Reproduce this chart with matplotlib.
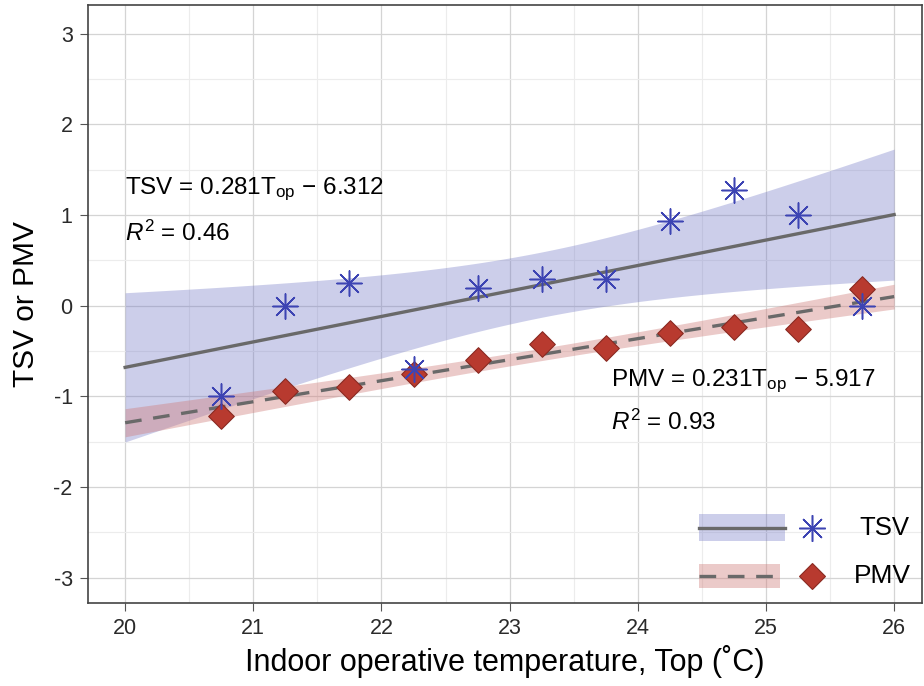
import numpy as np
import matplotlib
matplotlib.use("Agg")
import matplotlib.pyplot as plt
from matplotlib.patches import Rectangle
from matplotlib.lines import Line2D

plt.rcParams['font.family'] = ['Liberation Sans', 'DejaVu Sans']
plt.rcParams['mathtext.fontset'] = 'custom'
plt.rcParams['mathtext.rm'] = 'Liberation Sans'
plt.rcParams['mathtext.it'] = 'Liberation Sans:italic'
plt.rcParams['axes.unicode_minus'] = False

# data
top = [20.75, 21.25, 21.75, 22.25, 22.75, 23.25, 23.75, 24.25, 24.75, 25.25, 25.75]
tsv = [-1.0, 0.0, 0.25, -0.7, 0.2, 0.3, 0.3, 0.93, 1.28, 1.0, 0.0]
pmv = [-1.22, -0.94, -0.9, -0.75, -0.6, -0.42, -0.47, -0.3, -0.23, -0.26, 0.18]
xticks = [20, 21, 22, 23, 24, 25, 26]
yticks = [-3, -2, -1, 0, 1, 2, 3]

tsv_eq = r'TSV = 0.281T$_{\mathrm{op}}$ $-$ 6.312'
tsv_r2 = r'$R^2$ = 0.46'
pmv_eq = r'PMV = 0.231T$_{\mathrm{op}}$ $-$ 5.917'
pmv_r2 = r'$R^2$ = 0.93'


def fit_band(x, y, xs, t=2.262):
    x = np.asarray(x); y = np.asarray(y)
    b, a = np.polyfit(x, y, 1)
    resid = y - (a + b * x)
    s = np.sqrt(np.sum(resid ** 2) / (len(x) - 2))
    sxx = np.sum((x - x.mean()) ** 2)
    se = s * np.sqrt(1 / len(x) + (xs - x.mean()) ** 2 / sxx)
    yh = a + b * xs
    return yh, yh - t * se, yh + t * se


fig = plt.figure(figsize=(9.24, 6.86), dpi=100)
ax = fig.add_axes([0.0952, 0.121, 0.903, 0.872])

xs = np.linspace(20, 26, 200)
tsv_c = '#6e74c4'
pmv_c = '#cf7b78'

yh, lo, hi = fit_band(top, tsv, xs)
ax.fill_between(xs, lo, hi, color=tsv_c, alpha=0.35, lw=0, zorder=2)
ax.plot(xs, yh, color='#696969', lw=2.4, zorder=3)

yh2, lo2, hi2 = fit_band(top, pmv, xs)
ax.fill_between(xs, lo2, hi2, color=pmv_c, alpha=0.4, lw=0, zorder=2)
ax.plot(xs, yh2, color='#696969', lw=2.4, ls=(0, (5, 3.5)), zorder=3)

ax.scatter(top, pmv, marker='D', s=170, color='#b83a2f', edgecolor='#8a2a22',
           linewidth=0.8, zorder=4)
ax.scatter(top, tsv, marker=(8, 2, 0), s=330, color='#3d44b3', linewidth=1.1, zorder=5)

ax.text(20.0, 1.28, tsv_eq, fontsize=17.5, va='center', ha='left', zorder=6)
ax.text(20.0, 0.8, tsv_r2, fontsize=17.5, va='center', ha='left', zorder=6)
ax.text(23.79, -0.83, pmv_eq, fontsize=17.5, va='center', ha='left', zorder=6)
ax.text(23.79, -1.29, pmv_r2, fontsize=17.5, va='center', ha='left', zorder=6)

# legend drawn by hand (band + line, marker, label)
tr = ax.transAxes
ax.add_patch(Rectangle((0.732, 0.104), 0.104, 0.044, transform=tr, color=tsv_c,
                       alpha=0.35, lw=0, zorder=6))
ax.add_line(Line2D([0.732, 0.836], [0.126, 0.126], transform=tr, color='#696969', lw=2.4, zorder=7))
ax.add_line(Line2D([0.868], [0.126], transform=tr, marker=(8, 2, 0), ms=19, color='#3d44b3',
                   mew=1.1, ls='none', zorder=7))
ax.text(0.925, 0.126, 'TSV', transform=tr, fontsize=18.5, va='center', ha='left', zorder=7)
ax.add_patch(Rectangle((0.732, 0.025), 0.098, 0.04, transform=tr, color=pmv_c,
                       alpha=0.4, lw=0, zorder=6))
ax.add_line(Line2D([0.732, 0.83], [0.045, 0.045], transform=tr, color='#696969', lw=2.4,
                   ls=(0, (5, 3.5)), zorder=7))
ax.add_line(Line2D([0.868], [0.045], transform=tr, marker='D', ms=13, color='#b83a2f',
                   mec='#8a2a22', mew=0.8, ls='none', zorder=7))
ax.text(0.918, 0.045, 'PMV', transform=tr, fontsize=19, va='center', ha='left', zorder=7)

ax.set_xlim(19.71, 26.22)
ax.set_ylim(-3.28, 3.32)
ax.set_xticks(xticks)
ax.set_yticks(yticks)
ax.set_xticks(np.arange(20.5, 26, 1), minor=True)
ax.set_yticks(np.arange(-2.5, 3, 1), minor=True)
ax.grid(which='major', color='#d4d4d4', lw=0.9, zorder=0)
ax.grid(which='minor', color='#ececec', lw=0.8, zorder=0)
ax.set_axisbelow(True)
ax.tick_params(which='major', direction='out', length=6, color='#555555', labelsize=15.5,
               labelcolor='#2a2a2a', pad=5)
ax.tick_params(which='minor', length=0)
for sp in ax.spines.values():
    sp.set_color('#444444')
    sp.set_linewidth(1.2)

ax.set_xlabel('Indoor operative temperature, Top (˚C)', fontsize=22, labelpad=4)
ax.set_ylabel('TSV or PMV', fontsize=21.5, labelpad=10)

fig.savefig('out.png', dpi=100)
